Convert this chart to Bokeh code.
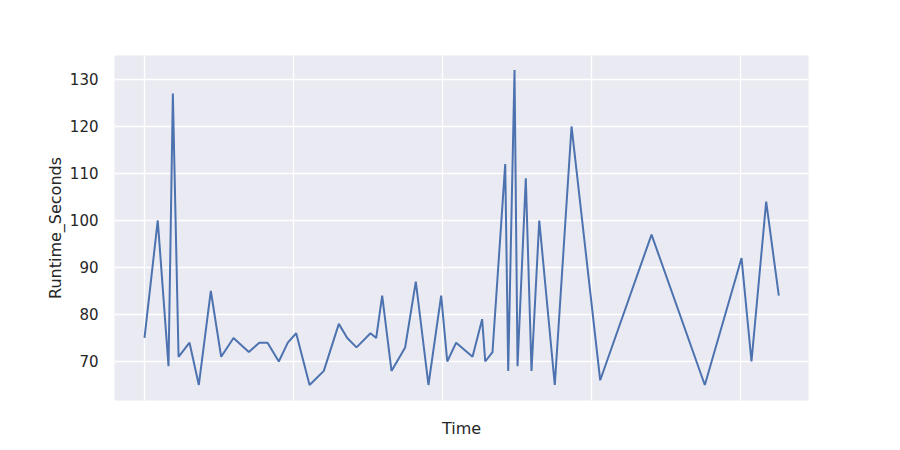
"""
Runtime_Seconds en fonction du temps (style seaborn darkgrid) avec Bokeh.
"""

from datetime import datetime

from bokeh.embed import file_html
from bokeh.models import CustomJSTickFormatter, DaysTicker, Range1d, SingleIntervalTicker
from bokeh.plotting import figure
from bokeh.resources import INLINE


TIMES = [
    "2023-05-01 00:00", "2023-05-01 02:08", "2023-05-01 03:52", "2023-05-01 04:34",
    "2023-05-01 05:29", "2023-05-01 07:15", "2023-05-01 08:45", "2023-05-01 10:41",
    "2023-05-01 12:21", "2023-05-01 14:20", "2023-05-01 16:48", "2023-05-01 18:29",
    "2023-05-01 19:49", "2023-05-01 21:38", "2023-05-01 23:05", "2023-05-02 00:26",
    "2023-05-02 02:35", "2023-05-02 04:53", "2023-05-02 07:18", "2023-05-02 08:39",
    "2023-05-02 10:09", "2023-05-02 12:24", "2023-05-02 13:19", "2023-05-02 14:17",
    "2023-05-02 15:47", "2023-05-02 17:59", "2023-05-02 19:42", "2023-05-02 21:44",
    "2023-05-02 23:47", "2023-05-03 00:46", "2023-05-03 02:12", "2023-05-03 04:50",
    "2023-05-03 06:23", "2023-05-03 06:53", "2023-05-03 08:03", "2023-05-03 10:06",
    "2023-05-03 10:35", "2023-05-03 11:36", "2023-05-03 12:05", "2023-05-03 13:25",
    "2023-05-03 14:20", "2023-05-03 15:35", "2023-05-03 18:05", "2023-05-03 20:47",
    "2023-05-04 01:24", "2023-05-04 09:40", "2023-05-04 18:15", "2023-05-05 00:10",
    "2023-05-05 01:46", "2023-05-05 04:08", "2023-05-05 06:10",
]
RUNTIME_SECONDS = [
    75, 100, 69, 127, 71, 74, 65, 85, 71, 75, 72, 74, 74, 70, 74, 76,
    65, 68, 78, 75, 73, 76, 75, 84, 68, 73, 87, 65, 84, 70, 74, 71,
    79, 70, 72, 112, 68, 132, 69, 109, 68, 100, 65, 120, 66, 97, 65, 92,
    70, 104, 84,
]
X_START = "2023-04-30 19:10"
X_END = "2023-05-05 10:57"
Y_START = 61.7
Y_END = 135.1

TEXT_COLOR = "#262626"
FONT = "DejaVu Sans"


def parse(ts: str) -> datetime:
    return datetime.strptime(ts, "%Y-%m-%d %H:%M")


def build_plot():
    times = [parse(t) for t in TIMES]

    p = figure(
        width=884,
        height=434,
        frame_width=694,
        frame_height=345,
        min_border_left=114,
        min_border_top=55,
        min_border_right=76,
        min_border_bottom=34,
        x_axis_type="datetime",
        x_range=Range1d(parse(X_START), parse(X_END)),
        y_range=Range1d(Y_START, Y_END),
        x_axis_label="Time",
        y_axis_label="Runtime_Seconds",
        output_backend="svg",
        toolbar_location=None,
    )
    p.background_fill_color = "#EAEAF2"
    p.border_fill_color = "white"
    p.outline_line_color = None

    p.line(times, RUNTIME_SECONDS, line_color="#4C72B0", line_width=2)

    p.xaxis.ticker = DaysTicker(days=list(range(1, 32)))
    p.xaxis.formatter = CustomJSTickFormatter(code="return ''")
    p.yaxis.ticker = SingleIntervalTicker(interval=10)

    for ax in (p.xaxis, p.yaxis):
        ax.axis_line_color = None
        ax.major_tick_line_color = None
        ax.minor_tick_line_color = None
        ax.major_label_text_font = FONT
        ax.major_label_text_font_size = "15px"
        ax.major_label_text_color = TEXT_COLOR
        ax.axis_label_text_font = FONT
        ax.axis_label_text_font_size = "16px"
        ax.axis_label_text_font_style = "normal"
        ax.axis_label_text_color = TEXT_COLOR

    p.yaxis.major_label_standoff = 10
    p.yaxis.axis_label_standoff = 2
    p.xaxis.axis_label_standoff = 12

    p.grid.grid_line_color = "white"
    p.grid.grid_line_width = 1.3
    p.xgrid.ticker = p.xaxis.ticker
    return p


def main() -> None:
    p = build_plot()
    with open("out.html", "w") as f:
        f.write(file_html(p, INLINE))


if __name__ == "__main__":
    main()
